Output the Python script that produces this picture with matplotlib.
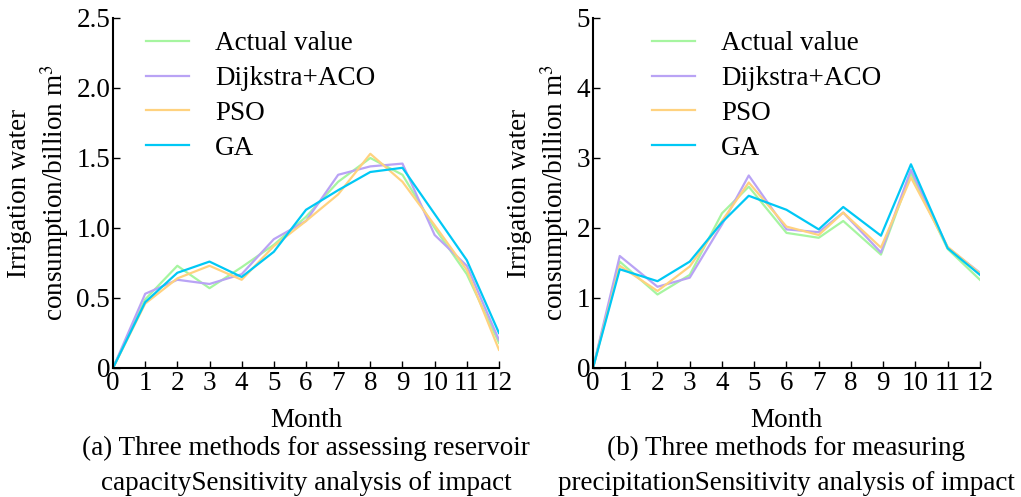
import numpy as np
import matplotlib
matplotlib.use("Agg")
import matplotlib.pyplot as plt

plt.rcParams['font.family'] = ['Liberation Serif', 'DejaVu Serif']
plt.rcParams['mathtext.fontset'] = 'stix'

# panel (a) - reservoir capacity
months_a = [0, 1, 2, 3, 4, 5, 6, 7, 8, 9, 10, 11, 12]
actual_a = [0, 0.49, 0.73, 0.57, 0.72, 0.88, 1.08, 1.33, 1.50, 1.38, 1.00, 0.67, 0.18]
dijk_a = [0, 0.53, 0.63, 0.60, 0.67, 0.92, 1.05, 1.38, 1.44, 1.46, 0.95, 0.73, 0.20]
pso_a = [0, 0.46, 0.64, 0.73, 0.63, 0.87, 1.05, 1.24, 1.53, 1.33, 1.02, 0.70, 0.13]
ga_a = [0, 0.47, 0.68, 0.76, 0.65, 0.83, 1.13, 1.27, 1.40, 1.43, 1.10, 0.77, 0.25]

# panel (b) - precipitation
months_b = [0, 0.83, 2, 3, 4, 4.83, 6, 7, 7.76, 8.93, 9.86, 11, 12]
actual_b = [0, 1.52, 1.05, 1.33, 2.21, 2.59, 1.93, 1.86, 2.10, 1.62, 2.78, 1.70, 1.26]
dijk_b = [0, 1.60, 1.16, 1.29, 2.05, 2.75, 1.98, 1.94, 2.22, 1.65, 2.83, 1.72, 1.36]
pso_b = [0, 1.46, 1.10, 1.45, 2.10, 2.65, 2.02, 1.90, 2.22, 1.72, 2.72, 1.73, 1.35]
ga_b = [0, 1.41, 1.24, 1.52, 2.08, 2.46, 2.26, 1.98, 2.30, 1.89, 2.91, 1.71, 1.33]

labels = ['Actual value', 'Dijkstra+ACO', 'PSO', 'GA']
colors = ['#a6f5a0', '#b9a3f5', '#ffd27f', '#00c8f5']

yticks_a = [0, 0.5, 1.0, 1.5, 2.0, 2.5]
ytick_labels_a = ['0', '0.5', '1.0', '1.5', '2.0', '2.5']
yticks_b = [0, 1, 2, 3, 4, 5]

captions = [['(a) Three methods for assessing reservoir', 'capacitySensitivity analysis of impact'],
            ['(b) Three methods for measuring', 'precipitationSensitivity analysis of impact']]

fs = 19.5
fig = plt.figure(figsize=(10.21, 4.97), dpi=100)
ax1 = fig.add_axes([0.1107, 0.2596, 0.378, 0.7042])
ax2 = fig.add_axes([0.5808, 0.2596, 0.379, 0.7042])

for ax, x, series, yt, ytl, cap, lx in [
        (ax1, months_a, [actual_a, dijk_a, pso_a, ga_a], yticks_a, ytick_labels_a, captions[0], 0.085),
        (ax2, months_b, [actual_b, dijk_b, pso_b, ga_b], yticks_b, [str(v) for v in yticks_b], captions[1], 0.152)]:
    for s, c, l in zip(series, colors, labels):
        ax.plot(x, s, color=c, lw=1.6, label=l)
    ax.set_xlim(0, 12)
    ax.set_ylim(yt[0], yt[-1])
    ax.set_xticks(range(13))
    ax.set_yticks(yt)
    ax.set_yticklabels(ytl)
    ax.tick_params(direction='in', labelsize=fs, length=5, width=1, pad=2)
    ax.tick_params(axis='x', pad=2)
    for sp in ['top', 'right']:
        ax.spines[sp].set_visible(False)
    for sp in ['left', 'bottom']:
        ax.spines[sp].set_linewidth(1.5)
    ax.set_xlabel('Month', fontsize=fs, labelpad=9)
    ax.set_ylabel('Irrigation water\nconsumption/billion m$^3$', fontsize=fs, linespacing=1.25, labelpad=4)
    ax.legend(loc='upper left', bbox_to_anchor=(lx, 0.962), frameon=False, fontsize=fs,
              handlelength=1.6, handletextpad=0.95, labelspacing=0.36, borderpad=0, borderaxespad=0)
    pos = ax.get_position()
    cx = (pos.x0 + pos.x1) / 2
    fig.text(cx, 1 - 448 / 497, cap[0], fontsize=fs, ha='center', va='center')
    fig.text(cx, 1 - 483 / 497, cap[1], fontsize=fs, ha='center', va='center')

fig.savefig('out.png', dpi=100)
